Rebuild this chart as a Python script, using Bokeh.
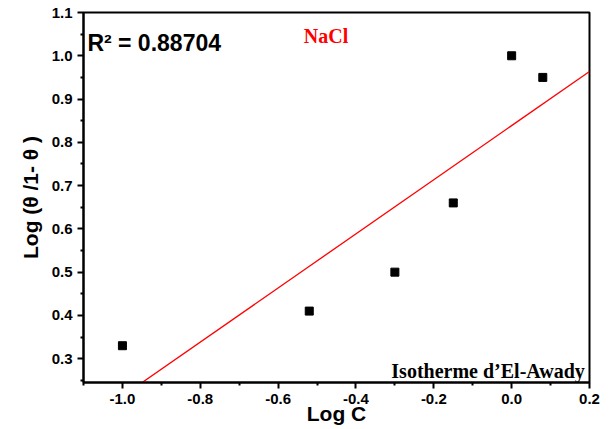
import numpy as np
from bokeh.plotting import figure
from bokeh.models import FixedTicker, PrintfTickFormatter, Label, Range1d
from bokeh.embed import file_html
from bokeh.resources import INLINE

log_c = [-1.0, -0.52, -0.30, -0.15, 0.0, 0.08]
log_theta = [0.33, 0.41, 0.50, 0.66, 1.00, 0.95]
x_major = [-1.0, -0.8, -0.6, -0.4, -0.2, 0.0, 0.2]
x_minor = [-1.1, -0.9, -0.7, -0.5, -0.3, -0.1, 0.1]
y_major = [0.3, 0.4, 0.5, 0.6, 0.7, 0.8, 0.9, 1.0, 1.1]
y_minor = [0.25, 0.35, 0.45, 0.55, 0.65, 0.75, 0.85, 0.95, 1.05]
r2_text = "R\u00b2 = 0.88704"
salt_text = "NaCl"
model_text = "Isotherme d\u2019El-Awady"

slope, intercept = np.polyfit(log_c, log_theta, 1)
fit_x = [-1.1, 0.2]
fit_y = [slope * v + intercept for v in fit_x]

p = figure(frame_width=506, frame_height=370, output_backend="svg", toolbar_location=None,
           x_range=Range1d(-1.1, 0.2), y_range=Range1d(0.245, 1.1),
           min_border_left=83, min_border_right=16, min_border_top=12, min_border_bottom=46)
p.grid.visible = False
p.outline_line_color = "black"
p.outline_line_width = 2
p.background_fill_color = "white"
p.border_fill_color = "white"

p.line(fit_x, fit_y, line_color="red", line_width=1.3)
p.scatter(log_c, log_theta, marker="square", size=8, fill_color="black", line_color="black")

for ax, maj, mn in ((p.xaxis[0], x_major, x_minor), (p.yaxis[0], y_major, y_minor)):
    ax.ticker = FixedTicker(ticks=maj, minor_ticks=mn)
    ax.formatter = PrintfTickFormatter(format="%.1f")
    ax.axis_line_width = 2
    ax.major_tick_line_width = 2
    ax.minor_tick_line_width = 2
    ax.major_tick_out = 6
    ax.major_tick_in = 0
    ax.minor_tick_out = 3
    ax.minor_tick_in = 0
    ax.major_label_text_font = "Liberation Sans"
    ax.major_label_text_font_style = "bold"
    ax.major_label_text_font_size = "15px"
    ax.major_label_text_color = "black"
    ax.major_label_standoff = 5
    ax.axis_label_text_font = "Liberation Sans"
    ax.axis_label_text_font_style = "bold"
    ax.axis_label_text_font_size = "21px"
    ax.axis_label_text_color = "black"

p.xaxis.axis_label = "Log C"
p.xaxis.axis_label_standoff = -5
p.yaxis.axis_label = "Log (\u03b8 /1- \u03b8 )"
p.yaxis.axis_label_standoff = 7

p.add_layout(Label(x=-1.09, y=1.03, text=r2_text, text_font="Liberation Sans",
                   text_font_style="bold", text_font_size="23px", text_color="black",
                   text_baseline="alphabetic"))
p.add_layout(Label(x=-0.534, y=1.046, text=salt_text, text_font="Liberation Serif",
                   text_font_style="bold", text_font_size="20px", text_color="red",
                   text_baseline="alphabetic"))
p.add_layout(Label(x=0.188, y=0.272, text=model_text, text_font="Liberation Serif",
                   text_font_style="bold", text_font_size="20px", text_color="black",
                   text_baseline="alphabetic", text_align="right"))

open("out.html", "w").write(file_html(p, INLINE))
